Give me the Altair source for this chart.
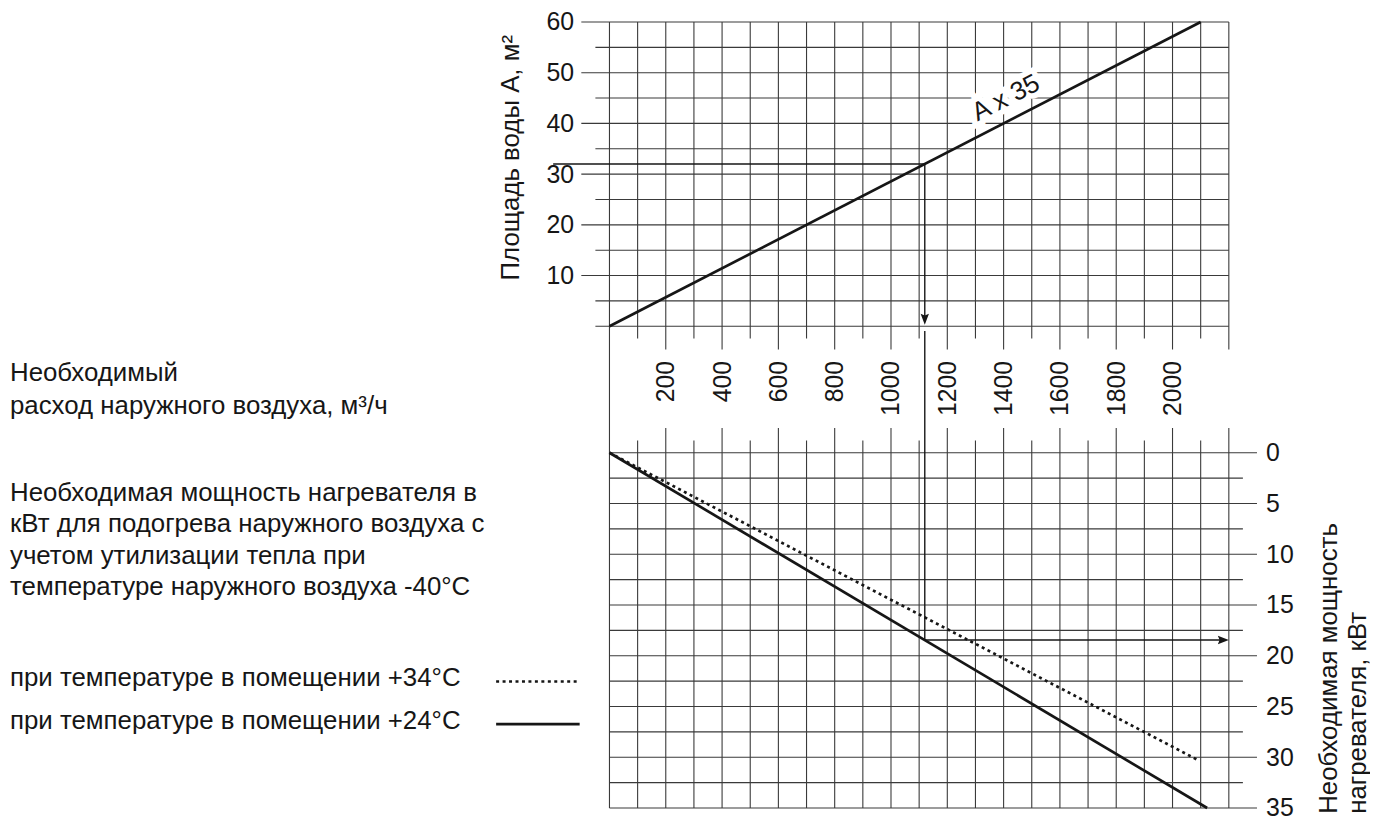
import altair as alt
import pandas as pd

FONT = "Liberation Sans"
INK = "#161616"
GRID = "#3a3a3a"

# ---------------- data ----------------
flow_grid = list(range(0, 2201, 100))          # m3/h grid
flow_labels = list(range(200, 2001, 200))
area_grid = list(range(0, 61, 5))               # m2 grid
area_labels = list(range(10, 61, 10))
power_grid = [i * 2.5 for i in range(15)]       # kW grid
power_labels = list(range(0, 36, 5))

a35_flow = [0, 2100]
a35_area = [0, 60]
t34_flow = [0, 2085]
t34_power = [0.0, 30.2]
t24_flow = [0, 2123]
t24_power = [0.0, 35.0]

ex_area = 32
ex_flow = 1120
ex_power = 18.45

left_notes = [
    "Необходимый",
    "расход наружного воздуха, м³/ч",
    "Необходимая мощность нагревателя в",
    "кВт для подогрева наружного воздуха с",
    "учетом утилизации тепла при",
    "температуре наружного воздуха -40°C",
    "при температуре в помещении +34°C",
    "при температуре в помещении +24°C",
]
note_y = [-7.05, -3.82, 4.75, 7.84, 10.92, 14.01, 23.02, 27.23]

# ---------------- scales / axes ----------------
W, H = 623, 790.6
xs = alt.Scale(domain=[0, 2200], nice=False, zero=False)
ys_top = alt.Scale(domain=[-95.0, 60], nice=False, zero=False)
ys_bot = alt.Scale(domain=[-42.44, 35], nice=False, zero=False, reverse=True)

X_AX = alt.Axis(orient="bottom", offset=-484.6, values=flow_labels, labelAngle=270,
                labelAlign="right", labelBaseline="middle", labelPadding=34.3,
                format="d", ticks=False, domain=False, grid=False, title=None,
                labelFont=FONT, labelFontSize=25, labelColor=INK,
                labelFlush=False, labelOverlap=False)

YT_AX = alt.Axis(orient="left", values=area_labels, ticks=False, domain=False, grid=False,
                 labelPadding=36, labelFont=FONT, labelFontSize=25, labelColor=INK,
                 labelFlush=False, labelOverlap=False, format="d",
                 title="Площадь воды A, м²", titleFont=FONT, titleFontSize=26,
                 titleFontWeight="normal", titleColor=INK, titleAngle=270,
                 titleAlign="center", titleBaseline="middle", titleX=-100, titleY=136)

YB_AX = alt.Axis(orient="right", values=power_labels, ticks=False, domain=False, grid=False,
                 labelPadding=37, labelFont=FONT, labelFontSize=25, labelColor=INK,
                 labelFlush=False, labelOverlap=False, format="d",
                 title=["Необходимая мощность", "нагревателя, кВт"], titleFont=FONT,
                 titleFontSize=26, titleFontWeight="normal", titleColor=INK,
                 titleAngle=270, titleAlign="left", titleBaseline="middle",
                 titleX=100, titleY=796, titleLineHeight=29)


def X(f):
    return alt.X(f, scale=xs, axis=X_AX)


def YT(f):
    return alt.Y(f, scale=ys_top, axis=YT_AX)


def YB(f):
    return alt.Y(f, scale=ys_bot, axis=YB_AX)


ARROW_DOWN = "M0,0L-0.38,-1L0,-0.85L0.38,-1Z"
ARROW_RIGHT = "M0,0L-1,-0.38L-0.85,0L-1,0.38Z"

# ---------------- top panel (water area) ----------------
gh_top = pd.DataFrame({
    "y": area_grid,
    "x1": [-100 if (v % 10 == 0 and v > 0) else -50 for v in area_grid],
    "x2": [2200] * len(area_grid),
})
gv_top = pd.DataFrame({
    "x": flow_grid,
    "y1": [60] * len(flow_grid),
    "y2": [-95.0 if v == 0 else (-4.6 if v % 200 == 0 else -2.4) for v in flow_grid],
})
top_layers = [
    alt.Chart(gh_top).mark_rule(stroke=GRID, strokeWidth=1.1, clip=False).encode(
        x=X("x1:Q"), x2="x2:Q", y=YT("y:Q")),
    alt.Chart(gv_top).mark_rule(stroke=GRID, strokeWidth=1.1, clip=False).encode(
        x=X("x:Q"), y=YT("y1:Q"), y2="y2:Q"),
    alt.Chart(pd.DataFrame({"flow": a35_flow, "area": a35_area})).mark_line(
        color=INK, strokeWidth=2.7, clip=False).encode(x=X("flow:Q"), y=YT("area:Q")),
]
lab = pd.DataFrame({"flow": [1408], "area": [45.0], "t": ["A x 35"]})
top_layers += [
    alt.Chart(lab).mark_text(font=FONT, fontSize=26, angle=332.8, align="center",
                             baseline="middle", stroke="white", strokeWidth=11,
                             fill="white", clip=False).encode(
        x=X("flow:Q"), y=YT("area:Q"), text="t:N"),
    alt.Chart(lab).mark_text(font=FONT, fontSize=26, angle=332.8, align="center",
                             baseline="middle", color=INK, clip=False).encode(
        x=X("flow:Q"), y=YT("area:Q"), text="t:N"),
    alt.Chart(pd.DataFrame({"x1": [-200], "x2": [ex_flow], "y": [ex_area]})).mark_rule(
        stroke=INK, strokeWidth=1.4, clip=False).encode(x=X("x1:Q"), x2="x2:Q", y=YT("y:Q")),
    alt.Chart(pd.DataFrame({"x": [ex_flow], "y1": [ex_area], "y2": [1.0]})).mark_rule(
        stroke=INK, strokeWidth=1.4, clip=False).encode(x=X("x:Q"), y=YT("y1:Q"), y2="y2:Q"),
    alt.Chart(pd.DataFrame({"x": [ex_flow], "y": [0.3]})).mark_point(
        shape=ARROW_DOWN, size=484, filled=True, fill=INK, opacity=1, strokeWidth=0,
        clip=False).encode(x=X("x:Q"), y=YT("y:Q")),
]
top = alt.layer(*top_layers)

# ---------------- bottom panel (heater power) ----------------
gh_bot = pd.DataFrame({
    "y": power_grid,
    "x1": [0] * len(power_grid),
    "x2": [2300 if v % 5 == 0 else 2250 for v in power_grid],
})
gv_bot = pd.DataFrame({
    "x": flow_grid[1:],
    "y1": [35] * (len(flow_grid) - 1),
    "y2": [-2.45 if v % 200 == 0 else -1.2 for v in flow_grid[1:]],
})
notes = pd.DataFrame({"x": [-2129.4] * len(left_notes), "y": note_y, "t": left_notes})

bot_layers = [
    alt.Chart(gh_bot).mark_rule(stroke=GRID, strokeWidth=1.1, clip=False).encode(
        x=X("x1:Q"), x2="x2:Q", y=YB("y:Q")),
    alt.Chart(gv_bot).mark_rule(stroke=GRID, strokeWidth=1.1, clip=False).encode(
        x=X("x:Q"), y=YB("y1:Q"), y2="y2:Q"),
    alt.Chart(pd.DataFrame({"flow": t34_flow, "p": t34_power})).mark_line(
        color=INK, strokeWidth=2.7, strokeDash=[3, 3.5], clip=False).encode(
        x=X("flow:Q"), y=YB("p:Q")),
    alt.Chart(pd.DataFrame({"flow": t24_flow, "p": t24_power})).mark_line(
        color=INK, strokeWidth=2.7, clip=False).encode(x=X("flow:Q"), y=YB("p:Q")),
    alt.Chart(pd.DataFrame({"x": [ex_flow], "y1": [-12.0], "y2": [ex_power]})).mark_rule(
        stroke=INK, strokeWidth=1.4, clip=False).encode(x=X("x:Q"), y=YB("y1:Q"), y2="y2:Q"),
    alt.Chart(pd.DataFrame({"x1": [ex_flow], "x2": [2190], "y": [ex_power]})).mark_rule(
        stroke=INK, strokeWidth=1.4, clip=False).encode(x=X("x1:Q"), x2="x2:Q", y=YB("y:Q")),
    alt.Chart(pd.DataFrame({"x": [2200], "y": [ex_power]})).mark_point(
        shape=ARROW_RIGHT, size=484, filled=True, fill=INK, opacity=1, strokeWidth=0,
        clip=False).encode(x=X("x:Q"), y=YB("y:Q")),
    alt.Chart(pd.DataFrame({"x1": [-402.6], "x2": [-105.9], "y": [22.53]})).mark_rule(
        stroke=INK, strokeWidth=2.6, strokeDash=[3, 3.5], clip=False).encode(
        x=X("x1:Q"), x2="x2:Q", y=YB("y:Q")),
    alt.Chart(pd.DataFrame({"x1": [-402.6], "x2": [-105.9], "y": [26.74]})).mark_rule(
        stroke=INK, strokeWidth=2.6, clip=False).encode(
        x=X("x1:Q"), x2="x2:Q", y=YB("y:Q")),
    alt.Chart(notes).mark_text(font=FONT, fontSize=26, align="left", baseline="alphabetic",
                               color=INK, clip=False).encode(
        x=X("x:Q"), y=YB("y:Q"), text="t:N"),
]
bot = alt.layer(*bot_layers)

chart = alt.layer(top, bot).resolve_scale(y="independent").properties(
    width=W, height=H,
    padding={"left": 605, "top": 11.7, "right": 142, "bottom": 10},
    autosize=alt.AutoSizeParams(type="none"),
).configure(font=FONT).configure_view(stroke=None)

chart.save("out.html", embed_options={"renderer": "svg", "actions": False})
